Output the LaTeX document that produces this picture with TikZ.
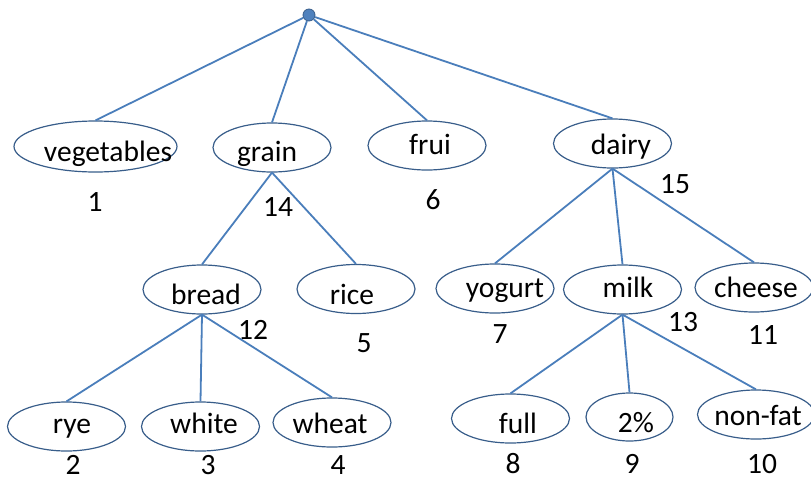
\documentclass[tikz,border=0pt]{standalone}
\usepackage{fontspec}
\setmainfont{Carlito}
\usetikzlibrary{shapes.geometric}
\definecolor{edgeblue}{RGB}{74,126,187}
\definecolor{rimblue}{RGB}{56,93,138}
\definecolor{dotblue}{RGB}{79,129,189}
\begin{document}
\begin{tikzpicture}[x=1pt,y=-1pt,
        oval/.style={ellipse,draw=rimblue,line width=1.2pt,inner sep=0pt,
            minimum width=118pt,minimum height=49pt},
        word/.style={anchor=base,inner sep=0pt,font=\fontsize{29.5}{35}\selectfont},
        branch/.style={draw=edgeblue,line width=1.8pt}]
    \useasboundingbox (0,0) rectangle (811,482);

    \node [circle,fill=dotblue,draw=rimblue,line width=0.8pt,minimum size=12pt,inner sep=0pt] (root) at (309,15) {};

    \node [oval,minimum width=163pt,minimum height=51pt] (veg) at (95.5,146.5) {};
    \node [oval] (grain) at (272,147.5) {};
    \node [oval] (frui) at (427,145.5) {};
    \node [oval] (dairy) at (612.5,143.5) {};
    \node [oval] (bread) at (202,289.5) {};
    \node [oval] (rice) at (356,289) {};
    \node [oval] (rye) at (66.5,426.5) {};
    \node [oval] (white) at (200.5,426.5) {};
    \node [oval] (wheat) at (332,422.5) {};
    \node [oval] (yogurt) at (495,288.5) {};
    \node [oval] (milk) at (622.5,289.5) {};
    \node [oval] (cheese) at (754,287.5) {};
    \node [oval] (full) at (510.5,418.5) {};
    \node [oval,minimum width=87pt,minimum height=48pt] (two) at (629.5,417) {};
    \node [oval,minimum width=117pt] (nonfat) at (756,414.5) {};

    \node [word] (vegt) at (108,161) {vegetables};
    \node [word] (graint) at (267,161) {grain};
    \node [word] (fruit) at (430,154) {frui};
    \node [word] (dairyt) at (621,154) {dairy};
    \node [word] (breadt) at (206,304) {bread};
    \node [word] (ricet) at (352,304) {rice};
    \node [word] (ryet) at (72,433) {rye};
    \node [word] (whitet) at (204,433) {white};
    \node [word] (wheatt) at (330,433) {wheat};
    \node [word] (yogurtt) at (505,297) {yogurt};
    \node [word] (milkt) at (628,297) {milk};
    \node [word] (cheeset) at (756,297) {cheese};
    \node [word] (fullt) at (518,433) {full};
    \node [word] (twot) at (636,432) {2\%};
    \node [word] (nonfatt) at (758,425) {non-fat};

    \node [word] (n1) at (95,211) {1};
    \node [word] (n14) at (278,216) {14};
    \node [word] (n6) at (433,209) {6};
    \node [word] (n15) at (675,193) {15};
    \node [word] (n12) at (253,339) {12};
    \node [word] (n5) at (364,352) {5};
    \node [word] (n2) at (73,474) {2};
    \node [word] (n3) at (208,474) {3};
    \node [word] (n4) at (338,474) {4};
    \node [word] (n7) at (500,343) {7};
    \node [word] (n13) at (683,331) {13};
    \node [word] (n11) at (763,344) {11};
    \node [word] (n8) at (513,473) {8};
    \node [word] (n9) at (632,473) {9};
    \node [word] (n10) at (762,473) {10};

    \draw [branch] (root) -- (veg.north);
    \draw [branch] (root) -- (grain.north);
    \draw [branch] (root) -- (frui.north);
    \draw [branch] (root) -- (dairy.north);

    \draw [branch] (grain.south) -- (bread.north);
    \draw [branch] (grain.south) -- (rice.north);

    \draw [branch] (bread.south) -- (rye.north);
    \draw [branch] (bread.south) -- (white.north);
    \draw [branch] (bread.south) -- (wheat.north);

    \draw [branch] (dairy.south) -- (yogurt.north);
    \draw [branch] (dairy.south) -- (milk.north);
    \draw [branch] (dairy.south) -- (cheese.north);

    \draw [branch] (milk.south) -- (full.north);
    \draw [branch] (milk.south) -- (two.north);
    \draw [branch] (milk.south) -- (nonfat.north);
\end{tikzpicture}
\end{document}
